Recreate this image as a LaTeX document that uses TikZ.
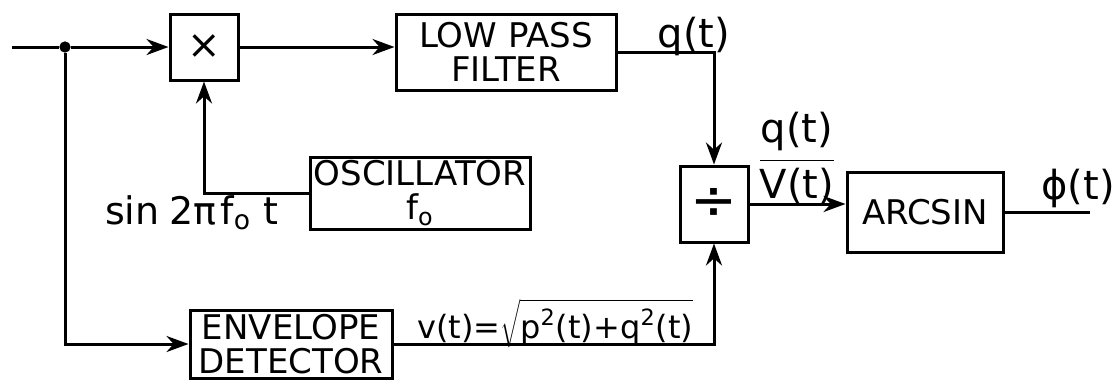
\documentclass[tikz,border=0pt]{standalone}
\usepackage{fontspec}
\setmainfont{DejaVu Sans}
\usetikzlibrary{arrows.meta,positioning}

\begin{document}
\begin{tikzpicture}[x=0.5pt,y=-0.5pt,
    block/.style={draw, line width=1.5pt, inner sep=1pt, align=center,
      font=\fontsize{17}{17}\selectfont},
    sig/.style={line width=1.5pt, -{Stealth[length=11pt,width=8pt]}},
    wire/.style={line width=1.5pt},
    lbl/.style={font=\fontsize{20}{22}\selectfont}]
        \useasboundingbox (0,0) rectangle (1120,382);
        % Blocks
        \node[block, minimum width=34pt, minimum height=33pt]
          (mult) at (204,47) {\fontsize{20}{20}\selectfont ×};
        \node[block, minimum width=110pt, minimum height=38pt]
          (lpf) at (506,52) {LOW PASS\\FILTER};
        \node[block, minimum width=110pt, minimum height=36pt]
          (osc) at (420,193) {OSCILLATOR\\f\textsubscript{o}};
        \node[block, minimum width=101pt, minimum height=34pt]
          (env) at (291,344) {ENVELOPE\\DETECTOR};
        \node[block, minimum width=34pt, minimum height=38pt]
          (div) at (714,204) {\fontsize{28}{28}\selectfont ÷};
        \node[block, minimum width=78pt, minimum height=40pt]
          (arc) at (925,212) {ARCSIN};
        % Input, branch point and output
        \coordinate (in) at (12,47);
        \node[circle, fill=black, inner sep=2pt] (jn) at (65,47) {};
        \coordinate (out) at (1090,212);
        % Signal paths
        \draw[wire] (in) -- (jn);
        \draw[sig] (jn) -- (mult);
        \draw[sig] (mult.east) -- (mult.east -| lpf.west);
        \draw[sig] (lpf.east) -| (div.north);
        \draw[sig] (osc.west) -| (mult.south);
        \draw[sig] (jn) |- (env.west);
        \draw[sig] (env.east) -| (div.south);
        \draw[sig] (div.east) -- (div.east -| arc.west);
        \draw[wire] (arc) -- (out);
        % Signal labels
        \node[lbl] (qlbl) at (694,36) {q(t)};
        \node[lbl] (ratio) at (797,158)
          {$\displaystyle\frac{\mbox{q(t)}}{\mbox{V(t)}}$};
        \node[lbl] (phi) at (1078,188) {ϕ(t)};
        \node[lbl, anchor=base west, font=\fontsize{19}{21}\selectfont]
          (sinlbl) at (98,224)
          {sin\hspace{5pt}2π\hspace{2pt}f\textsubscript{o}\hspace{6pt}t};
        \node[lbl, anchor=base west, font=\fontsize{16}{16}\selectfont]
          (vlbl) at (410,338)
          {v(t)=$\displaystyle\sqrt{\rule[-3pt]{0pt}{17pt}\mbox{p\textsuperscript{2}(t)+q\textsuperscript{2}(t)}}$};
      \end{tikzpicture}
\end{document}
